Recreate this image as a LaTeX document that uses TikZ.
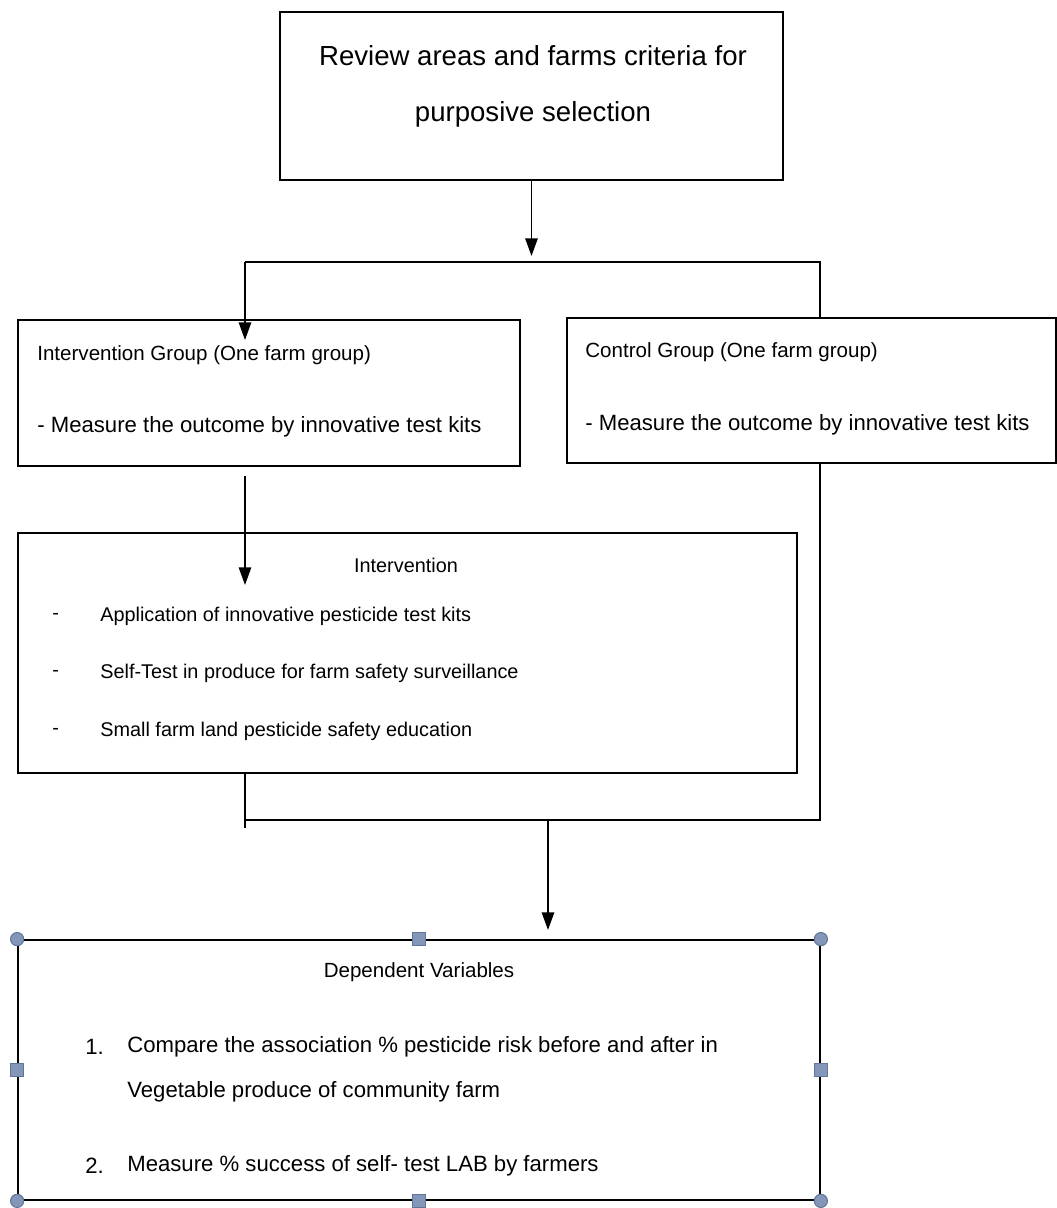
\documentclass[tikz,border=0pt]{standalone}
\usepackage{fontspec}
\setmainfont{Liberation Sans}
\usetikzlibrary{arrows.meta,positioning,fit}
\definecolor{handlefill}{HTML}{8497B8}
\definecolor{handledraw}{HTML}{5F7698}
\begin{document}
\begin{tikzpicture}[x=0.02cm,y=-0.02cm]
    \tikzset{frame/.style={draw,line width=1pt,rectangle,inner sep=0pt},
        txt/.style={inner sep=0pt,anchor=west},
        big/.style={inner sep=0pt,font=\fontsize{15.7}{18}\selectfont},
        head/.style={txt,font=\fontsize{11.7}{14}\selectfont},
        mid/.style={txt,font=\fontsize{12.6}{15}\selectfont},
        small/.style={txt,font=\fontsize{11.3}{13}\selectfont},
        flow/.style={line width=1pt,-{Triangle[length=10pt,width=7pt]}},
        link/.style={line width=1pt},
        handle/.style={fill=handlefill,draw=handledraw,line width=0.6pt,inner sep=0pt,minimum size=7.5pt}}
    \useasboundingbox (0,0) rectangle (1057,1208);
    % boxes
    \node[frame,fit={(280,12) (783,180)}] (review) {};
    \node[frame,fit={(18,320) (520,466)}] (ingroup) {};
    \node[frame,fit={(567,318) (1056,463)}] (ctrl) {};
    \node[frame,fit={(18,533) (797,773)}] (interv) {};
    \node[frame,fit={(18,940) (820,1200)}] (dep) {};
    % texts
    \node[big] (reviewA) at (533,56) {Review areas and farms criteria for};
    \node[big] (reviewB) at (533,114) {purposive selection};
    \node[head] (ingroupA) at (37,355) {Intervention Group (One farm group)};
    \node[mid] (ingroupB) at (37,427) {- Measure the outcome by innovative test kits};
    \node[head] (ctrlA) at (585,352) {Control Group (One farm group)};
    \node[mid] (ctrlB) at (585,425) {- Measure the outcome by innovative test kits};
    \node[small,anchor=center] (intervHead) at (406,565) {Intervention};
    \foreach \y/\item in {616/Application of innovative pesticide test kits,
            673/Self-Test in produce for farm safety surveillance,
            731/Small farm land pesticide safety education}
        {\node[small] at (52,\y) {-};
         \node[small] at (100,\y) {\item};}
    \node[head,anchor=center] (depHead) at (419,972) {Dependent Variables};
    \node[mid] (depNumA) at (85,1047) {1.};
    \node[mid] (depA) at (127,1047) {Compare the association \% pesticide risk before and after in};
    \node[mid] (depB) at (127,1092) {Vegetable produce of community farm};
    \node[mid] (depNumC) at (85,1166) {2.};
    \node[mid] (depC) at (127,1166) {Measure \% success of self- test LAB by farmers};
    % connectors
    \coordinate (forkL) at (245,262);
    \coordinate (forkR) at (820,262);
    \coordinate (tipA) at (245,340);
    \coordinate (joinL) at (245,820);
    \coordinate (joinR) at (820,820);
    \draw[flow] (review.south) -- (review.south |- 0,256);
    \draw[link] (forkL) -- (forkR) -- (forkR |- ctrl.north);
    \draw[flow] (forkL) -- (tipA);
    \draw[flow] (245,476) coordinate (startB) -- (245,585) coordinate (tipB);
    \draw[link] (interv.south -| joinL) -- (245,828) coordinate (tailL);
    \draw[link] (joinL) -- (joinR) -- (ctrl.south -| joinR);
    \draw[flow] (548,820) coordinate (joinM) -- (548,930);
    % selection handles
    \foreach \corner in {north west,north east,south west,south east}
        \node[handle,circle] at (dep.\corner) {};
    \foreach \side in {north,south,east,west}
        \node[handle,rectangle] at (dep.\side) {};
\end{tikzpicture}
\end{document}
